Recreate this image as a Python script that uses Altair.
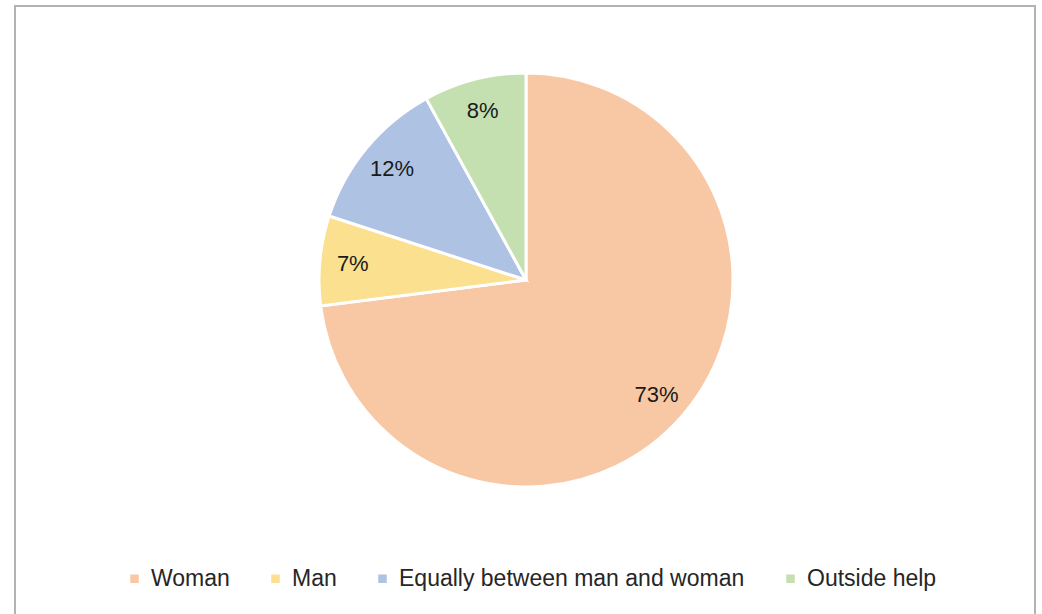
import altair as alt
import pandas as pd

# Who does the housework: share of responses
categories = ["Woman", "Man", "Equally between man and woman", "Outside help"]
shares = [73, 7, 12, 8]
labels = ["73%", "7%", "12%", "8%"]
colors = ["#F8C7A4", "#FBE090", "#AEC2E4", "#C4DFB0"]

df = pd.DataFrame({
    "category": categories,
    "share": shares,
    "label": labels,
    "order": list(range(len(categories))),
})

CX, CY = 511, 274      # pie centre inside the framed view
R_OUT = 207
R_LABEL = 174

color = alt.Color(
    "category:N",
    scale=alt.Scale(domain=categories, range=colors),
    legend=alt.Legend(
        title=None,
        orient="none",
        direction="horizontal",
        legendX=108,
        legendY=561,
        symbolType="square",
        symbolSize=72,
        symbolStrokeWidth=0,
        labelFont="Liberation Sans",
        labelFontSize=23,
        labelColor="#262626",
        labelOffset=5,
        labelLimit=0,
        columnPadding=34,
        padding=0,
    ),
)

base = alt.Chart(df).encode(
    theta=alt.Theta("share:Q", stack=True),
    order=alt.Order("order:Q"),
)

slices = base.mark_arc(stroke="white", strokeWidth=3).encode(
    color=color,
    x=alt.value(CX),
    y=alt.value(CY),
    radius=alt.value(R_OUT),
)

texts = base.mark_text(
    font="Liberation Sans", fontSize=22, color="#1a1a1a", baseline="middle", align="center"
).encode(
    text="label:N",
    x=alt.value(CX),
    y=alt.value(CY),
    radius=alt.value(R_LABEL),
)

chart = (
    alt.layer(slices, texts)
    .properties(
        width=1020,
        height=620,
        padding={"left": 15, "top": 6, "right": 7, "bottom": 0},
        autosize=alt.AutoSizeParams(type="none"),
        background="white",
    )
    .configure_view(stroke="#b3b3b3", strokeWidth=2)
)

chart.save("out.html", embed_options={"renderer": "svg", "actions": False})
